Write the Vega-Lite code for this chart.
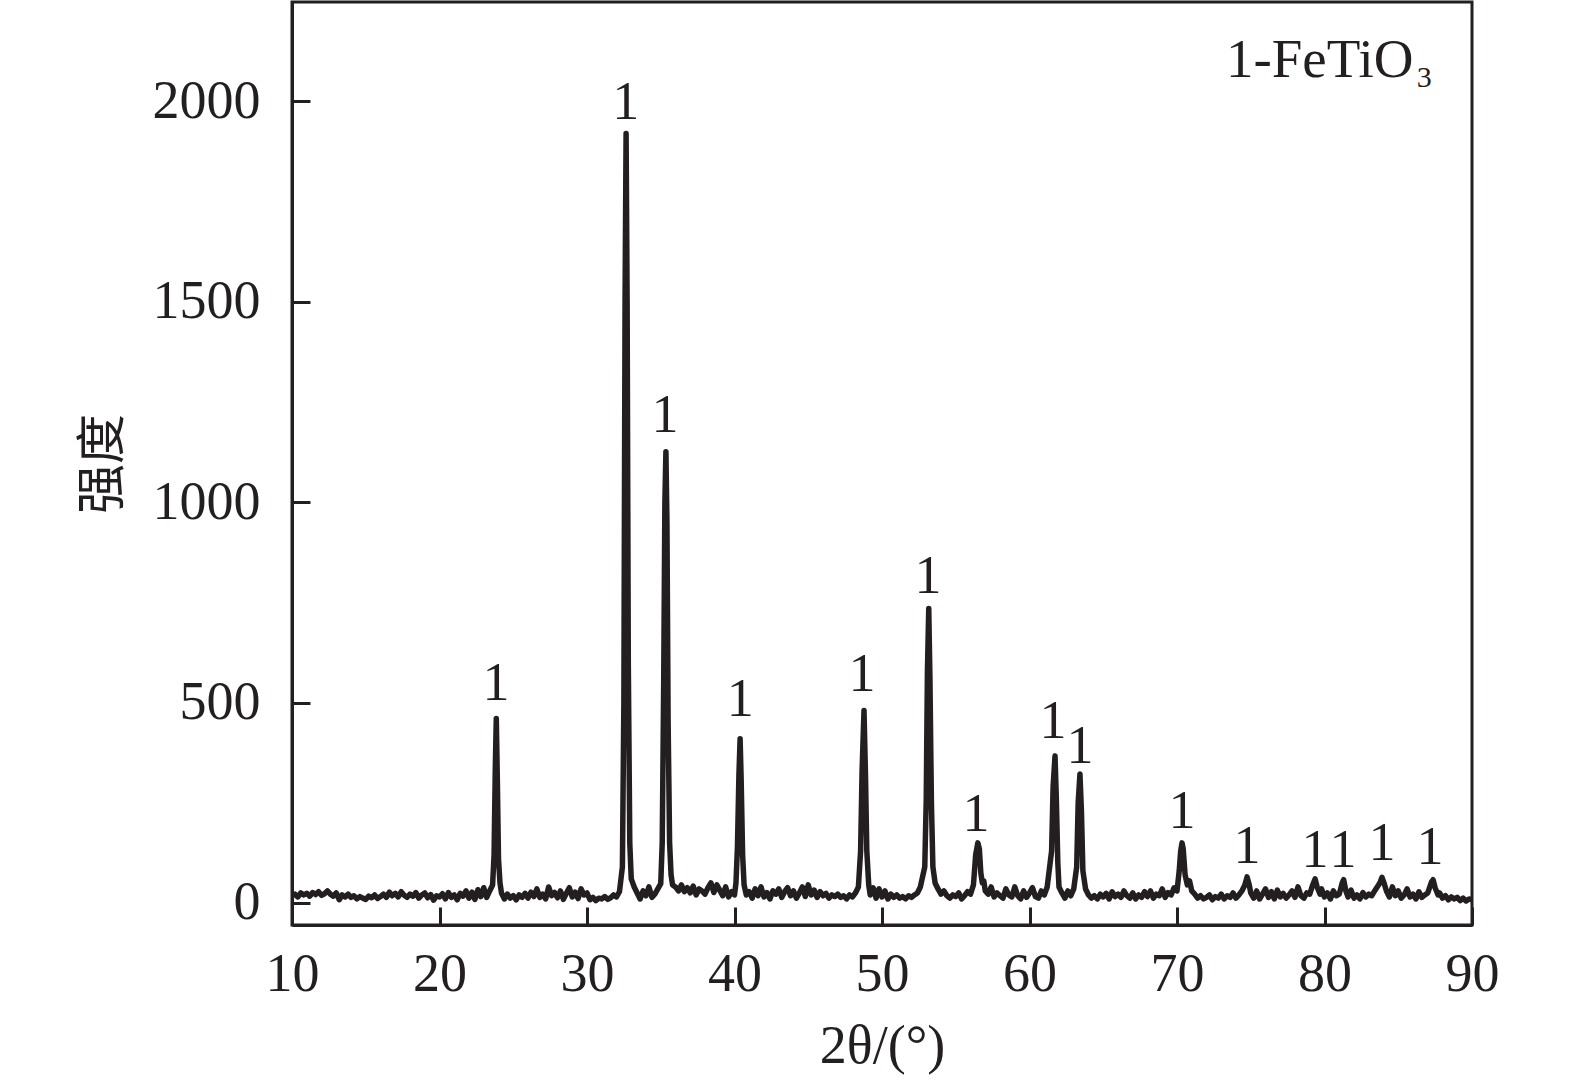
{
"$schema": "https://vega.github.io/schema/vega-lite/v6.json",
"autosize": "none",
"padding": {"left": 292, "top": 2, "right": 103, "bottom": 156},
"width": 1180,
"height": 923,
"background": "white",
"datasets": {
"xrd": [
{"t":10.0,"i":18},{"t":10.2,"i":22},{"t":10.4,"i":15},{"t":10.6,"i":25},{"t":10.8,"i":20},
{"t":11.0,"i":24},{"t":11.2,"i":17},{"t":11.4,"i":26},{"t":11.6,"i":21},{"t":11.8,"i":28},
{"t":12.0,"i":19},{"t":12.2,"i":23},{"t":12.4,"i":30},{"t":12.6,"i":22},{"t":12.8,"i":17},
{"t":13.0,"i":25},{"t":13.2,"i":8},{"t":13.4,"i":20},{"t":13.6,"i":15},{"t":13.8,"i":22},
{"t":14.0,"i":14},{"t":14.2,"i":18},{"t":14.4,"i":10},{"t":14.6,"i":16},{"t":14.8,"i":12},
{"t":15.0,"i":9},{"t":15.2,"i":17},{"t":15.4,"i":13},{"t":15.6,"i":20},{"t":15.8,"i":11},
{"t":16.0,"i":16},{"t":16.2,"i":22},{"t":16.4,"i":14},{"t":16.6,"i":27},{"t":16.8,"i":18},
{"t":17.0,"i":24},{"t":17.2,"i":15},{"t":17.4,"i":28},{"t":17.6,"i":19},{"t":17.8,"i":14},
{"t":18.0,"i":22},{"t":18.2,"i":17},{"t":18.4,"i":26},{"t":18.6,"i":12},{"t":18.8,"i":20},
{"t":19.0,"i":25},{"t":19.2,"i":13},{"t":19.4,"i":21},{"t":19.6,"i":7},{"t":19.8,"i":18},
{"t":20.0,"i":15},{"t":20.2,"i":23},{"t":20.4,"i":10},{"t":20.6,"i":26},{"t":20.8,"i":14},
{"t":21.0,"i":20},{"t":21.2,"i":8},{"t":21.4,"i":24},{"t":21.6,"i":17},{"t":21.8,"i":30},
{"t":22.0,"i":12},{"t":22.2,"i":27},{"t":22.4,"i":9},{"t":22.6,"i":33},{"t":22.8,"i":16},
{"t":23.0,"i":38},{"t":23.2,"i":14},{"t":23.4,"i":30},{"t":23.6,"i":45},{"t":23.7,"i":120},
{"t":23.78,"i":330},{"t":23.85,"i":460},{"t":23.92,"i":310},{"t":24.0,"i":110},{"t":24.1,"i":50},
{"t":24.2,"i":25},{"t":24.4,"i":10},{"t":24.6,"i":22},{"t":24.8,"i":12},
{"t":25.0,"i":18},{"t":25.2,"i":8},{"t":25.4,"i":20},{"t":25.6,"i":14},{"t":25.8,"i":24},
{"t":26.0,"i":12},{"t":26.2,"i":27},{"t":26.4,"i":16},{"t":26.6,"i":35},{"t":26.8,"i":14},
{"t":27.0,"i":22},{"t":27.2,"i":10},{"t":27.4,"i":40},{"t":27.6,"i":18},{"t":27.8,"i":26},
{"t":28.0,"i":13},{"t":28.2,"i":30},{"t":28.4,"i":9},{"t":28.6,"i":24},{"t":28.8,"i":38},
{"t":29.0,"i":15},{"t":29.2,"i":27},{"t":29.4,"i":11},{"t":29.6,"i":35},{"t":29.8,"i":20},
{"t":30.0,"i":25},{"t":30.2,"i":8},{"t":30.4,"i":14},{"t":30.6,"i":6},{"t":30.8,"i":12},
{"t":31.0,"i":10},{"t":31.2,"i":16},{"t":31.4,"i":9},{"t":31.6,"i":13},{"t":31.8,"i":20},
{"t":32.0,"i":15},{"t":32.2,"i":28},{"t":32.4,"i":90},{"t":32.5,"i":500},{"t":32.58,"i":1500},
{"t":32.65,"i":1920},{"t":32.72,"i":1500},{"t":32.8,"i":600},{"t":32.9,"i":150},{"t":33.0,"i":60},
{"t":33.2,"i":40},{"t":33.4,"i":25},{"t":33.6,"i":10},{"t":33.8,"i":30},
{"t":34.0,"i":18},{"t":34.2,"i":40},{"t":34.4,"i":14},{"t":34.6,"i":22},{"t":34.8,"i":35},
{"t":35.0,"i":48},{"t":35.1,"i":150},{"t":35.2,"i":550},{"t":35.28,"i":1000},{"t":35.35,"i":1126},
{"t":35.42,"i":950},{"t":35.5,"i":450},{"t":35.6,"i":150},{"t":35.7,"i":70},{"t":35.8,"i":45},
{"t":36.0,"i":40},{"t":36.2,"i":30},{"t":36.4,"i":45},{"t":36.6,"i":28},{"t":36.8,"i":38},
{"t":37.0,"i":25},{"t":37.2,"i":42},{"t":37.4,"i":20},{"t":37.6,"i":35},{"t":37.8,"i":30},
{"t":38.0,"i":22},{"t":38.2,"i":38},{"t":38.4,"i":50},{"t":38.6,"i":26},{"t":38.8,"i":45},
{"t":39.0,"i":32},{"t":39.2,"i":18},{"t":39.4,"i":40},{"t":39.6,"i":15},{"t":39.8,"i":28},
{"t":40.0,"i":20},{"t":40.1,"i":50},{"t":40.2,"i":140},{"t":40.3,"i":320},{"t":40.38,"i":410},
{"t":40.45,"i":310},{"t":40.55,"i":120},{"t":40.65,"i":45},{"t":40.8,"i":20},
{"t":41.0,"i":28},{"t":41.2,"i":12},{"t":41.4,"i":35},{"t":41.6,"i":18},{"t":41.8,"i":40},
{"t":42.0,"i":15},{"t":42.2,"i":26},{"t":42.4,"i":10},{"t":42.6,"i":30},{"t":42.8,"i":22},
{"t":43.0,"i":35},{"t":43.2,"i":14},{"t":43.4,"i":28},{"t":43.6,"i":38},{"t":43.8,"i":18},
{"t":44.0,"i":30},{"t":44.2,"i":12},{"t":44.4,"i":25},{"t":44.6,"i":40},{"t":44.8,"i":16},
{"t":45.0,"i":45},{"t":45.2,"i":20},{"t":45.4,"i":32},{"t":45.6,"i":14},{"t":45.8,"i":28},
{"t":46.0,"i":18},{"t":46.2,"i":24},{"t":46.4,"i":12},{"t":46.6,"i":20},{"t":46.8,"i":16},
{"t":47.0,"i":22},{"t":47.2,"i":14},{"t":47.4,"i":18},{"t":47.6,"i":10},{"t":47.8,"i":20},
{"t":48.0,"i":15},{"t":48.2,"i":25},{"t":48.4,"i":40},{"t":48.55,"i":130},{"t":48.65,"i":330},
{"t":48.78,"i":480},{"t":48.88,"i":320},{"t":48.97,"i":130},{"t":49.1,"i":45},
{"t":49.2,"i":20},{"t":49.4,"i":38},{"t":49.6,"i":12},{"t":49.8,"i":35},
{"t":50.0,"i":15},{"t":50.2,"i":30},{"t":50.4,"i":10},{"t":50.6,"i":22},{"t":50.8,"i":14},
{"t":51.0,"i":20},{"t":51.2,"i":12},{"t":51.4,"i":16},{"t":51.6,"i":10},{"t":51.8,"i":18},
{"t":52.0,"i":14},{"t":52.2,"i":20},{"t":52.4,"i":25},{"t":52.6,"i":40},{"t":52.9,"i":90},
{"t":53.0,"i":260},{"t":53.08,"i":580},{"t":53.17,"i":735},{"t":53.25,"i":560},{"t":53.35,"i":250},
{"t":53.45,"i":90},{"t":53.6,"i":50},{"t":53.8,"i":35},
{"t":54.0,"i":22},{"t":54.2,"i":30},{"t":54.4,"i":18},{"t":54.6,"i":12},{"t":54.8,"i":20},
{"t":55.0,"i":16},{"t":55.2,"i":25},{"t":55.4,"i":10},{"t":55.6,"i":18},{"t":55.8,"i":28},
{"t":56.0,"i":22},{"t":56.2,"i":45},{"t":56.35,"i":120},{"t":56.5,"i":150},{"t":56.6,"i":135},
{"t":56.7,"i":75},{"t":56.8,"i":50},{"t":56.9,"i":55},
{"t":57.0,"i":30},{"t":57.2,"i":22},{"t":57.4,"i":40},{"t":57.6,"i":15},{"t":57.8,"i":25},
{"t":58.0,"i":18},{"t":58.2,"i":12},{"t":58.4,"i":35},{"t":58.6,"i":20},{"t":58.8,"i":15},
{"t":59.0,"i":40},{"t":59.2,"i":18},{"t":59.4,"i":10},{"t":59.6,"i":30},{"t":59.8,"i":14},
{"t":60.0,"i":25},{"t":60.2,"i":38},{"t":60.4,"i":16},{"t":60.6,"i":12},{"t":60.8,"i":30},
{"t":61.0,"i":20},{"t":61.2,"i":40},{"t":61.5,"i":130},{"t":61.6,"i":290},{"t":61.73,"i":367},
{"t":61.82,"i":260},{"t":61.92,"i":100},{"t":62.0,"i":40},
{"t":62.2,"i":25},{"t":62.4,"i":12},{"t":62.6,"i":30},{"t":62.8,"i":18},
{"t":63.0,"i":35},{"t":63.2,"i":90},{"t":63.3,"i":250},{"t":63.42,"i":322},{"t":63.52,"i":230},
{"t":63.62,"i":80},{"t":63.8,"i":35},
{"t":64.0,"i":20},{"t":64.2,"i":12},{"t":64.4,"i":18},{"t":64.6,"i":10},{"t":64.8,"i":22},
{"t":65.0,"i":15},{"t":65.2,"i":24},{"t":65.4,"i":10},{"t":65.6,"i":28},{"t":65.8,"i":16},
{"t":66.0,"i":22},{"t":66.2,"i":14},{"t":66.4,"i":30},{"t":66.6,"i":18},{"t":66.8,"i":12},
{"t":67.0,"i":25},{"t":67.2,"i":10},{"t":67.4,"i":20},{"t":67.6,"i":14},{"t":67.8,"i":28},
{"t":68.0,"i":16},{"t":68.2,"i":30},{"t":68.4,"i":12},{"t":68.6,"i":22},{"t":68.8,"i":18},
{"t":69.0,"i":35},{"t":69.2,"i":14},{"t":69.4,"i":26},{"t":69.6,"i":20},{"t":69.8,"i":38},
{"t":70.0,"i":30},{"t":70.15,"i":80},{"t":70.25,"i":130},{"t":70.34,"i":150},{"t":70.42,"i":135},
{"t":70.55,"i":70},{"t":70.7,"i":45},{"t":70.85,"i":55},
{"t":71.0,"i":30},{"t":71.2,"i":22},{"t":71.4,"i":12},{"t":71.6,"i":18},{"t":71.8,"i":10},
{"t":72.0,"i":14},{"t":72.2,"i":20},{"t":72.4,"i":8},{"t":72.6,"i":16},{"t":72.8,"i":12},
{"t":73.0,"i":22},{"t":73.2,"i":10},{"t":73.4,"i":18},{"t":73.6,"i":14},{"t":73.8,"i":25},
{"t":74.0,"i":12},{"t":74.2,"i":20},{"t":74.4,"i":30},{"t":74.6,"i":45},{"t":74.75,"i":65},
{"t":74.9,"i":45},
{"t":75.0,"i":25},{"t":75.2,"i":12},{"t":75.4,"i":30},{"t":75.6,"i":10},{"t":75.8,"i":22},
{"t":76.0,"i":35},{"t":76.2,"i":14},{"t":76.4,"i":28},{"t":76.6,"i":10},{"t":76.8,"i":32},
{"t":77.0,"i":15},{"t":77.2,"i":24},{"t":77.4,"i":12},{"t":77.6,"i":20},{"t":77.8,"i":30},
{"t":78.0,"i":14},{"t":78.2,"i":40},{"t":78.4,"i":18},{"t":78.6,"i":12},{"t":78.8,"i":25},
{"t":79.0,"i":22},{"t":79.2,"i":45},{"t":79.36,"i":60},{"t":79.5,"i":40},{"t":79.7,"i":22},
{"t":79.8,"i":35},
{"t":80.0,"i":15},{"t":80.2,"i":25},{"t":80.4,"i":10},{"t":80.6,"i":30},{"t":80.8,"i":18},
{"t":81.0,"i":22},{"t":81.2,"i":50},{"t":81.3,"i":58},{"t":81.45,"i":30},{"t":81.6,"i":15},
{"t":81.8,"i":32},
{"t":82.0,"i":12},{"t":82.2,"i":20},{"t":82.4,"i":10},{"t":82.6,"i":26},{"t":82.8,"i":15},
{"t":83.0,"i":22},{"t":83.2,"i":18},{"t":83.4,"i":30},{"t":83.75,"i":50},{"t":83.9,"i":64},
{"t":84.05,"i":48},{"t":84.2,"i":30},{"t":84.4,"i":15},{"t":84.6,"i":40},{"t":84.8,"i":18},
{"t":85.0,"i":30},{"t":85.2,"i":12},{"t":85.4,"i":20},{"t":85.6,"i":35},{"t":85.8,"i":15},
{"t":86.0,"i":22},{"t":86.2,"i":10},{"t":86.4,"i":28},{"t":86.6,"i":14},{"t":86.8,"i":20},
{"t":87.0,"i":25},{"t":87.25,"i":52},{"t":87.36,"i":58},{"t":87.5,"i":38},{"t":87.7,"i":20},
{"t":87.8,"i":25},
{"t":88.0,"i":12},{"t":88.2,"i":18},{"t":88.4,"i":8},{"t":88.6,"i":15},{"t":88.8,"i":10},
{"t":89.0,"i":14},{"t":89.2,"i":6},{"t":89.4,"i":12},{"t":89.6,"i":5},{"t":89.8,"i":10},
{"t":90.0,"i":8}
],
"labels": [
{"t":23.83,"i":506,"txt":"1"},
{"t":32.63,"i":1956,"txt":"1"},
{"t":35.29,"i":1175,"txt":"1"},
{"t":40.39,"i":466,"txt":"1"},
{"t":48.64,"i":529,"txt":"1"},
{"t":53.12,"i":774,"txt":"1"},
{"t":56.37,"i":180,"txt":"1"},
{"t":61.6,"i":411,"txt":"1"},
{"t":63.42,"i":349,"txt":"1"},
{"t":70.34,"i":187,"txt":"1"},
{"t":74.75,"i":100,"txt":"1"},
{"t":79.36,"i":90,"txt":"1"},
{"t":81.25,"i":90,"txt":"1"},
{"t":83.9,"i":107,"txt":"1"},
{"t":87.15,"i":97,"txt":"1"}
],
"anno": [{"t":73.32,"i":2060,"txt":"1-FeTiO"}],
"sub": [{"t":86.25,"i":2035,"txt":"3"}]
},
"encoding": {
"x": {"field": "t", "type": "quantitative",
  "scale": {"domain": [10, 90], "nice": false, "zero": false},
  "axis": {"values": [10,20,30,40,50,60,70,80,90], "title": "2θ/(°)", "titlePadding": 18}},
"y": {"field": "i", "type": "quantitative",
  "scale": {"domain": [-55, 2248], "nice": false, "zero": false},
  "axis": {"values": [0,500,1000,1500,2000], "format": "d", "title": "强度", "titleFont": "Noto Sans CJK SC", "titleFontSize": 50, "titlePadding": 24}}
},
"layer": [
{"data": {"name": "xrd"}, "mark": {"type": "line", "color": "#231f20", "strokeWidth": 5.5, "strokeJoin": "round", "clip": true}},
{"data": {"name": "labels"}, "mark": {"type": "text", "font": "Liberation Serif", "fontSize": 54, "color": "#231f20", "align": "center", "baseline": "alphabetic"}, "encoding": {"text": {"field": "txt"}}},
{"data": {"name": "anno"}, "mark": {"type": "text", "font": "Liberation Serif", "fontSize": 55, "color": "#231f20", "align": "left", "baseline": "alphabetic"}, "encoding": {"text": {"field": "txt"}}},
{"data": {"name": "sub"}, "mark": {"type": "text", "font": "Liberation Serif", "fontSize": 30, "color": "#231f20", "align": "left", "baseline": "alphabetic"}, "encoding": {"text": {"field": "txt"}}}
],
"config": {
"view": {"stroke": "#231f20", "strokeWidth": 3},
"axis": {"grid": false, "domainColor": "#231f20", "domainWidth": 3, "tickColor": "#231f20", "tickWidth": 3, "tickSize": -18,
  "labelFont": "Liberation Serif", "labelFontSize": 54, "labelColor": "#231f20", "labelFlush": false, "labelOverlap": false, "labelBound": false,
  "titleFont": "Liberation Serif", "titleFontSize": 54, "titleFontWeight": "normal", "titleColor": "#231f20"},
"axisX": {"labelPadding": 40},
"axisY": {"labelPadding": 50}
}
}
